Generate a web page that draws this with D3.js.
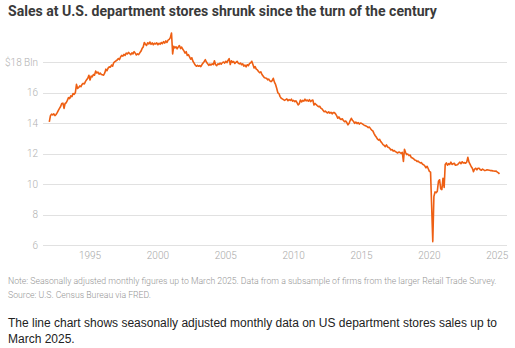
<!DOCTYPE html>
<html>
<head>
<meta charset="utf-8">
<script src="https://cdn.jsdelivr.net/npm/d3@7"></script>
<style>
  html, body { margin: 0; padding: 0; background: #fff; }
  svg { display: block; }
</style>
</head>
<body>
<svg id="svg" width="515" height="348"></svg>
<script>
// monthly sales, $ billions, Jan 1992 .. Mar 2025
const startYear = 1992;
const sales = [
  // 1992
  14.1, 14.5, 14.6, 14.55, 14.62, 14.5, 14.58, 14.7, 14.85, 14.98, 15.1, 15.3,
  // 1993
  15.32, 14.98, 15.3, 15.35, 15.5, 15.68, 15.62, 15.8, 15.75, 15.95, 15.9, 16.0,
  // 1994
  16.55, 16.28, 16.35, 16.45, 16.4, 16.55, 16.62, 16.58, 16.75, 16.85, 16.95, 17.15,
  // 1995
  16.84, 17.1, 17.05, 17.2, 17.15, 17.42, 17.3, 17.36, 17.22, 17.3, 17.2, 17.18,
  // 1996
  17.15, 17.3, 17.55, 17.45, 17.62, 17.7, 17.68, 17.82, 17.75, 17.98, 18.04, 18.1,
  // 1997
  18.15, 18.25, 18.18, 18.35, 18.45, 18.4, 18.52, 18.45, 18.6, 18.55, 18.65, 18.58,
  // 1998
  18.5, 18.62, 18.55, 18.7, 18.6, 18.48, 18.55, 18.5, 18.62, 18.72, 18.9, 19.0,
  // 1999
  19.3, 19.18, 19.1, 19.28, 19.2, 19.33, 19.18, 19.27, 19.15, 19.25, 19.2, 19.28,
  // 2000
  19.15, 19.25, 19.18, 19.3, 19.22, 19.35, 19.26, 19.4, 19.3, 19.45, 19.5, 19.62,
  // 2001
  19.92, 18.55, 19.05, 18.95, 19.02, 18.88, 19.0, 19.1, 18.9, 19.0, 18.85, 18.75,
  // 2002
  18.6, 18.7, 18.45, 18.5, 18.35, 18.2, 18.3, 18.07, 17.95, 17.82, 17.74, 17.8,
  // 2003
  17.74, 17.78, 17.72, 17.85, 17.95, 18.05, 18.17, 18.0, 17.9, 17.8, 17.88, 17.82,
  // 2004
  17.9, 17.85, 18.1, 17.84, 17.78, 17.9, 17.86, 17.95, 17.88, 17.98, 18.02, 17.95,
  // 2005
  18.07, 17.98, 18.12, 18.24, 17.85, 18.1, 18.0, 18.05, 17.92, 18.0, 18.07, 17.95,
  // 2006
  17.9, 17.95, 17.84, 17.9, 17.75, 17.82, 17.7, 17.84, 17.78, 17.92, 17.96, 18.07,
  // 2007
  17.85, 17.63, 17.72, 17.55, 17.5, 17.4, 17.32, 17.38, 17.2, 17.1, 17.0, 16.97,
  // 2008
  16.95, 16.85, 16.9, 16.78, 16.73, 16.8, 16.95, 16.7, 16.55, 16.3, 16.0, 15.95,
  // 2009
  15.75, 15.64, 15.6, 15.55, 15.5, 15.55, 15.6, 15.48, 15.55, 15.5, 15.58, 15.45,
  // 2010
  15.5, 15.42, 15.48, 15.35, 15.2, 15.28, 15.53, 15.4, 15.5, 15.45, 15.58, 15.47,
  // 2011
  15.53, 15.45, 15.55, 15.42, 15.5, 15.53, 15.2, 15.3, 15.22, 15.15, 15.09, 15.12,
  // 2012
  15.0, 14.95, 14.85, 14.76, 14.8, 14.72, 14.68, 14.75, 14.66, 14.72, 14.62, 14.7,
  // 2013
  14.7, 14.62, 14.5, 14.33, 14.42, 14.3, 14.25, 14.3, 14.18, 14.1, 14.15, 14.05,
  // 2014
  13.9, 14.0, 14.18, 14.33, 14.2, 14.12, 14.0, 14.08, 13.98, 14.05, 13.95, 14.02,
  // 2015
  14.0, 13.95, 13.9, 13.85, 13.82, 13.78, 13.72, 13.75, 13.65, 13.56, 13.5, 13.34,
  // 2016
  13.2, 13.1, 12.98, 12.9, 12.95, 12.8, 12.72, 12.6, 12.55, 12.47, 12.58, 12.45,
  // 2017
  12.42, 12.35, 12.25, 12.28, 12.18, 12.22, 12.14, 12.1, 12.05, 12.12, 12.08, 12.03,
  // 2018
  12.1, 11.5, 12.3, 12.08, 11.95, 11.98, 11.88, 11.92, 11.75, 11.72, 11.68, 11.6,
  // 2019
  11.58, 11.5, 11.52, 11.45, 11.4, 11.42, 11.32, 11.28, 11.2, 11.08, 11.18, 11.02,
  // 2020
  10.85, 10.8, 8.6, 6.24, 9.2, 9.5, 9.45, 9.55, 10.2, 10.3, 9.7, 9.65,
  // 2021
  10.4, 9.8, 11.3, 11.4, 11.25, 11.35, 11.3, 11.45, 11.3, 11.35, 11.38, 11.25,
  // 2022
  11.27, 11.3, 11.38, 11.45, 11.35, 11.48, 11.4, 11.42, 11.38, 11.45, 11.77, 11.45,
  // 2023
  11.3, 11.15, 11.05, 10.83, 11.0, 11.05, 10.95, 11.05, 11.05, 10.95, 10.92, 11.0,
  // 2024
  10.95, 10.9, 10.92, 10.95, 10.94, 10.92, 10.9, 10.9, 10.88, 10.87, 10.85, 10.87,
  // 2025
  10.8, 10.75, 10.68
];

const yTicks = [6, 8, 10, 12, 14, 16, 18];
const xTickYears = [1995, 2000, 2005, 2010, 2015, 2020, 2025];

const titleText = 'Sales at U.S. department stores shrunk since the turn of the century';
const noteLines = [
  'Note: Seasonally adjusted monthly figures up to March 2025. Data from a subsample of firms from the larger Retail Trade Survey.',
  'Source: U.S. Census Bureau via FRED.'
];
const descLines = [
  'The line chart shows seasonally adjusted monthly data on US department stores sales up to',
  'March 2025.'
];

const data = sales.map((v, i) => ({ date: new Date(startYear + Math.floor(i / 12), i % 12, 1), value: v }));

const svg = d3.select('#svg');

// scale text so it spans a given width
function fit(sel, target) {
  const w = sel.node().getComputedTextLength();
  const fs = parseFloat(sel.attr('font-size'));
  sel.attr('font-size', (fs * target / w).toFixed(2));
}

const x = d3.scaleTime()
  .domain([new Date(1992, 0, 1), new Date(2025, 2, 1)])
  .range([49.3, 499.5]);
const y = d3.scaleLinear().domain([6, 18]).range([245.3, 62.3]);

// grid
svg.append('g').selectAll('line')
  .data(yTicks)
  .join('line')
  .attr('x1', 43).attr('x2', 507)
  .attr('y1', d => Math.round(y(d)) + 0.5)
  .attr('y2', d => Math.round(y(d)) + 0.5)
  .attr('stroke', '#e1e1e1')
  .attr('stroke-width', 1);

svg.append('g').selectAll('text')
  .data(yTicks)
  .join('text')
  .attr('x', 38)
  .attr('y', d => y(d) + 3.5)
  .attr('text-anchor', 'end')
  .attr('font-family', 'Roboto, sans-serif')
  .attr('font-weight', 300)
  .attr('font-size', 10)
  .attr('fill', '#b0b0b0')
  .text(d => d == 18 ? '$18 Bln' : d);

svg.append('g').selectAll('text')
  .data(xTickYears)
  .join('text')
  .attr('x', d => x(new Date(d, 0, 1)))
  .attr('y', 258.5)
  .attr('text-anchor', 'middle')
  .attr('font-family', 'Roboto, sans-serif')
  .attr('font-weight', 300)
  .attr('font-size', 10)
  .attr('fill', '#a8a8a8')
  .text(d => d);

const line = d3.line()
  .x(d => x(d.date))
  .y(d => y(d.value));

svg.append('path')
  .datum(data)
  .attr('d', line)
  .attr('fill', 'none')
  .attr('stroke', '#ee5f13')
  .attr('stroke-width', 1.6)
  .attr('stroke-linejoin', 'round');

// title
const title = svg.append('text')
  .attr('x', 8).attr('y', 16)
  .attr('font-family', 'Roboto, sans-serif')
  .attr('font-weight', 700)
  .attr('font-size', 15)
  .attr('fill', '#3a3a3a')
  .text(titleText);
fit(title, 429);

// notes
const n1 = svg.append('text')
  .attr('x', 8).attr('y', 283.5)
  .attr('font-family', 'Roboto, sans-serif')
  .attr('font-weight', 300)
  .attr('font-size', 8.5)
  .attr('fill', '#959595')
  .text(noteLines[0]);
fit(n1, 489);
svg.append('text')
  .attr('x', 8).attr('y', 298)
  .attr('font-family', 'Roboto, sans-serif')
  .attr('font-weight', 300)
  .attr('font-size', n1.attr('font-size'))
  .attr('fill', '#959595')
  .text(noteLines[1]);

// description
const d1 = svg.append('text')
  .attr('x', 8).attr('y', 326.5)
  .attr('font-family', '"Liberation Sans", Arial, sans-serif')
  .attr('font-size', 14)
  .attr('fill', '#222')
  .text(descLines[0]);
fit(d1, 489);
svg.append('text')
  .attr('x', 8).attr('y', 343)
  .attr('font-family', '"Liberation Sans", Arial, sans-serif')
  .attr('font-size', d1.attr('font-size'))
  .attr('fill', '#222')
  .text(descLines[1]);
</script>
</body>
</html>
